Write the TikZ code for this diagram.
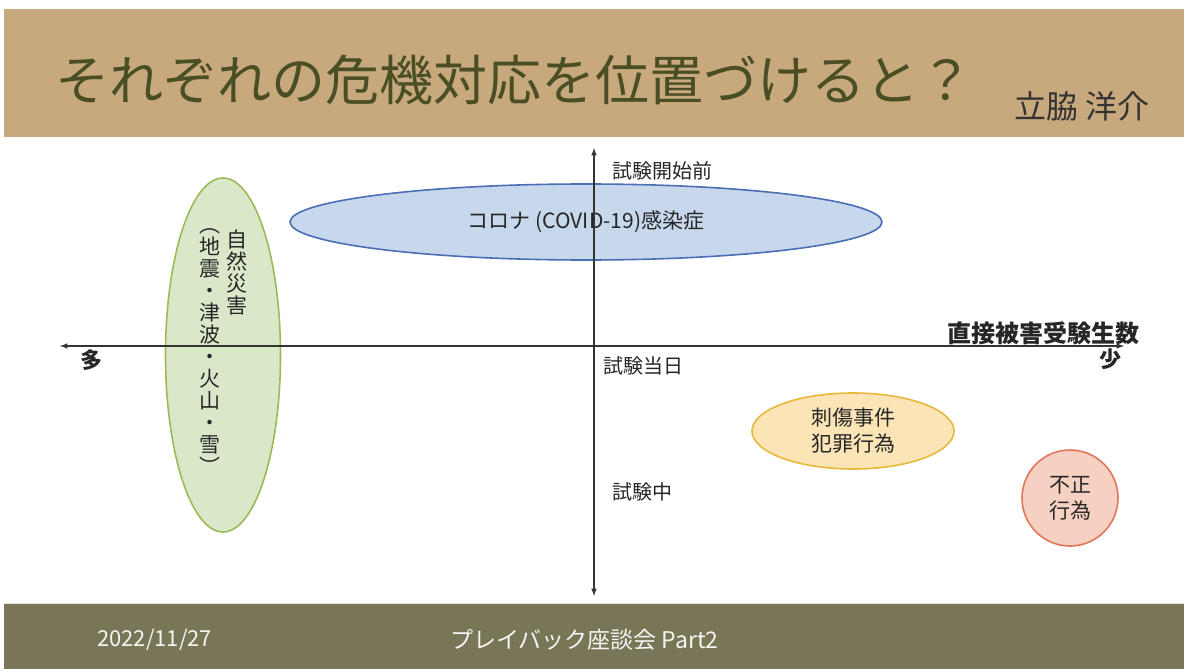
\documentclass[tikz,border=0pt]{standalone}
\usepackage{fontspec}
\setmainfont{Noto Sans CJK JP}
\usetikzlibrary{shapes.geometric}

\definecolor{bandtan}{RGB}{200,169,125}
\definecolor{bandolive}{RGB}{120,118,86}
\definecolor{titleink}{RGB}{74,78,36}
\definecolor{covidfill}{RGB}{199,215,236}
\definecolor{covidline}{RGB}{74,111,181}
\definecolor{quakefill}{RGB}{218,232,201}
\definecolor{quakeline}{RGB}{155,187,89}
\definecolor{crimefill}{RGB}{251,229,182}
\definecolor{crimeline}{RGB}{232,184,58}
\definecolor{cheatfill}{RGB}{246,208,192}
\definecolor{cheatline}{RGB}{224,118,90}

\tikzset{
  blob/.style={ellipse, draw, line width=1.6pt, inner sep=0pt, align=center,
    font=\fontsize{21}{26}\selectfont, text=black!85},
  axislabel/.style={inner sep=0pt, font=\fontsize{20}{24}\selectfont, text=black!85},
  tatecol/.style={inner sep=0pt, anchor=north, align=center,
    font=\fontsize{21}{22}\selectfont, text=black!85},
}

\begin{document}
\begin{tikzpicture}[x=1pt, y=-1pt]
    \useasboundingbox (0,0) rectangle (1184,669);
    \fill[white] (0,0) rectangle (1184,669);

    % Bands
    \fill[bandtan] (4,9) rectangle (1184,137);
    \fill[bandolive] (4,603) rectangle (1184,669);
    \draw[white!80!bandolive, line width=1pt] (4,603.5) -- (1184,603.5);

    % Title
    \node[anchor=west, inner sep=0pt, text=titleink, font=\fontsize{54}{60}\selectfont] (title) at (55,80) {それぞれの危機対応を位置づけると？};
    \node[anchor=east, inner sep=0pt, text=black!80, font=\fontsize{32}{36}\selectfont] (author) at (1150,106) {立脇 洋介};

    % Shapes
    \node[blob, fill=covidfill, draw=covidline, minimum width=592, minimum height=76] (covid) at (586,222) {コロナ (COVID-19)感染症};
    \node[blob, fill=quakefill, draw=quakeline, minimum width=115, minimum height=354] (quake) at (223,355) {};
    \node[blob, fill=crimefill, draw=crimeline, minimum width=202, minimum height=76] (crime) at (853,431) {刺傷事件\\犯罪行為};
    \node[blob, circle, fill=cheatfill, draw=cheatline, minimum size=96] (cheat) at (1070,498) {不正\\行為};

    % Vertical text
    \node[tatecol] (quakeA) at (237,230) {自\\然\\災\\害};
    \node[tatecol] (quakeB) at (210,228) {︵\\地\\震\\・\\津\\波\\・\\火\\山\\・\\雪\\︶};

    % Axes
    \coordinate (xl) at (60,346);
    \coordinate (xr) at (1124,346);
    \coordinate (yt) at (594,148);
    \coordinate (yb) at (594,596);
    \draw[<->, >=latex, line width=1.5pt, black!80] (xl) -- (xr);
    \draw[<->, >=latex, line width=1.5pt, black!80] (yb) -- (yt);

    % Labels
    \node[axislabel, anchor=west] (before) at (612,171) {試験開始前};
    \node[axislabel, anchor=west] (onday) at (603,366) {試験当日};
    \node[axislabel, anchor=west] (during) at (612,492) {試験中};
    \node[axislabel, anchor=east, font=\fontsize{24}{28}\selectfont\bfseries] (count) at (1140,333) {直接被害受験生数};
    \node[axislabel, font=\fontsize{22}{26}\selectfont\bfseries] (few) at (1110,359) {少};
    \node[axislabel, font=\fontsize{22}{26}\selectfont\bfseries] (many) at (91,360) {多};

    % Footer
    \node[anchor=west, inner sep=0pt, text=white!92!bandolive, font=\fontsize{22}{24}\selectfont] (date) at (97,640) {2022/11/27};
    \node[anchor=west, inner sep=0pt, text=white!92!bandolive, font=\fontsize{23}{26}\selectfont] (event) at (450,640) {プレイバック座談会 Part2};

\end{tikzpicture}
\end{document}
